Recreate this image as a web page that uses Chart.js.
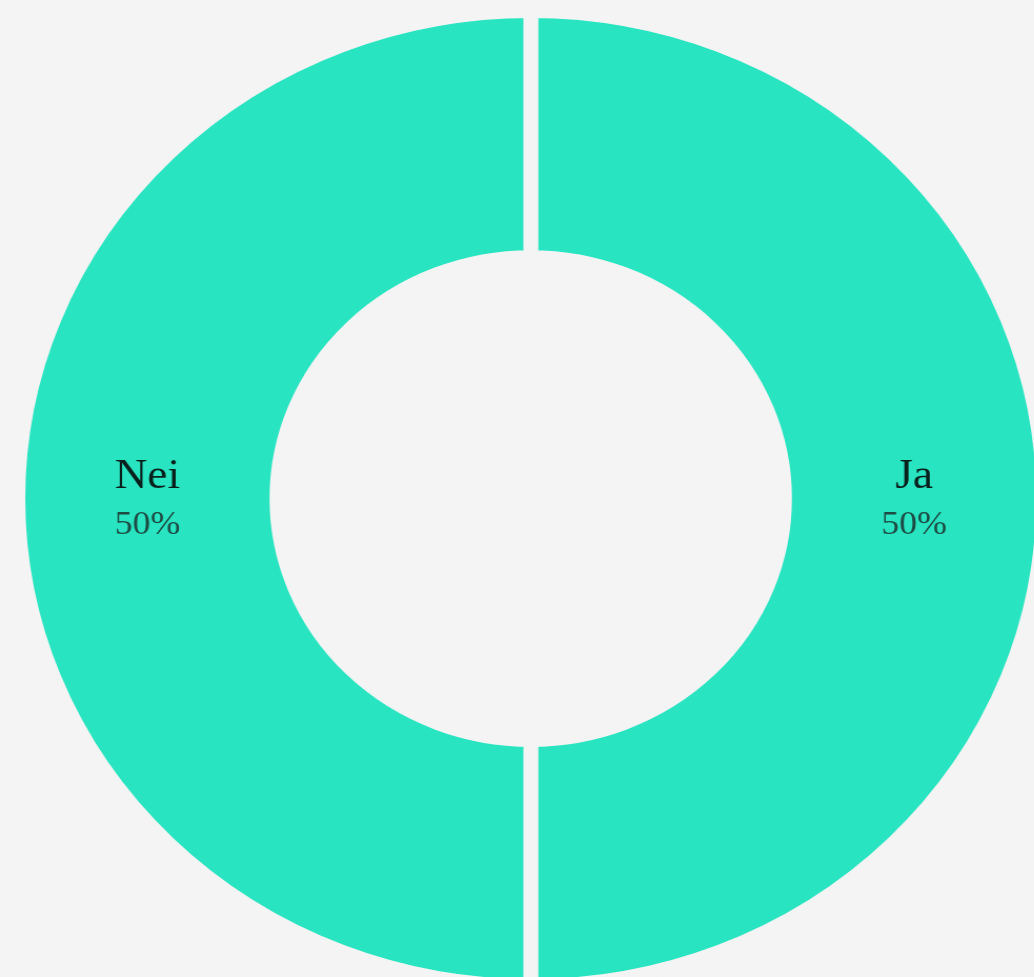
<!DOCTYPE html>
<html lang="no">
<head>
  <meta charset="UTF-8" />
  <title>Ja / Nei</title>
  <script src="https://cdn.jsdelivr.net/npm/chart.js"></script>
  <style>
    html, body {
      margin: 0;
      padding: 0;
      width: 1034px;
      height: 977px;
      overflow: hidden;
      background-color: #f4f4f4;
    }
    /* the reference is stretched a little wider than tall */
    #answerChart {
      position: absolute;
      left: 0;
      top: 0;
      transform: scaleX(1.052);
      transform-origin: 0 0;
    }
  </style>
</head>
<body>
  <canvas id="answerChart" width="1000" height="1000"></canvas>

  <script>
    const labels = ["Ja", "Nei"];
    const answers = [50, 50];
    const sliceColors = ["#29e4c1", "#29e4c1"];

    // draws "label / percent" in the middle of each slice
    const sliceLabels = {
      id: "sliceLabels",
      afterDatasetsDraw(chart) {
        const ctx = chart.ctx;
        const data = chart.data.datasets[0].data;
        const total = data.reduce((a, b) => a + b, 0);
        chart.getDatasetMeta(0).data.forEach((arc, i) => {
          const p = arc.getCenterPoint();
          const pct = Math.round((data[i] / total) * 100) + "%";
          ctx.save();
          ctx.textAlign = "center";
          ctx.textBaseline = "alphabetic";
          ctx.fillStyle = "#08201c";
          ctx.font = "43px 'Liberation Serif', serif";
          ctx.fillText(chart.data.labels[i], p.x, p.y - 11);
          ctx.fillStyle = "#1d4a43";
          ctx.font = "34px 'Liberation Serif', serif";
          ctx.fillText(pct, p.x, p.y + 35);
          ctx.restore();
        });
      }
    };

    const ctx = document.getElementById("answerChart").getContext("2d");
    new Chart(ctx, {
      type: "doughnut",
      data: {
        labels: labels,
        datasets: [{
          data: answers,
          backgroundColor: sliceColors,
          borderColor: "#f4f4f4",
          borderWidth: 14,
          borderJoinStyle: "miter",
          hoverOffset: 0
        }]
      },
      options: {
        responsive: false,
        animation: false,
        cutout: "49.5%",
        layout: { padding: { top: 4, bottom: 7, left: 10, right: 1 } },
        plugins: {
          legend: { display: false },
          tooltip: { enabled: false }
        }
      },
      plugins: [sliceLabels]
    });
  </script>
</body>
</html>
